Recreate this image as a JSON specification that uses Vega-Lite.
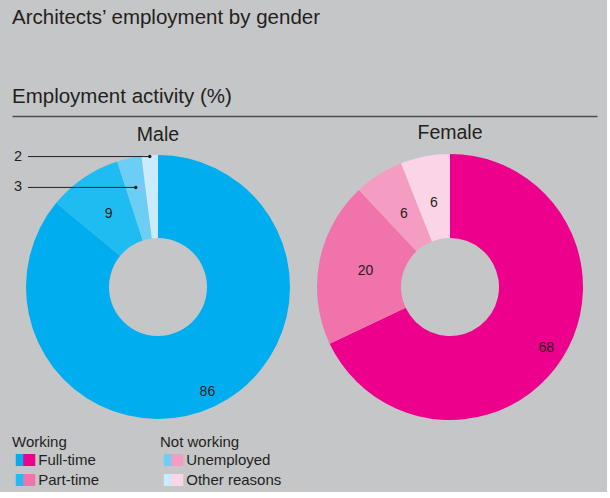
{
  "$schema": "https://vega.github.io/schema/vega-lite/v6.json",
  "description": "Architects' employment activity by gender, in percent.",
  "background": "#c5c6c8",
  "padding": {"left": 12, "top": 8, "right": 10, "bottom": 4},
  "title": {
    "text": "Architects’ employment by gender",
    "anchor": "start",
    "fontSize": 20.5,
    "offset": 58
  },
  "datasets": {
    "employment": [
      {"gender": "Male", "category": "Full-time", "status": "Working", "value": 86},
      {"gender": "Male", "category": "Part-time", "status": "Working", "value": 9},
      {"gender": "Male", "category": "Unemployed", "status": "Not working", "value": 3},
      {"gender": "Male", "category": "Other reasons", "status": "Not working", "value": 2},
      {"gender": "Female", "category": "Full-time", "status": "Working", "value": 68},
      {"gender": "Female", "category": "Part-time", "status": "Working", "value": 20},
      {"gender": "Female", "category": "Unemployed", "status": "Not working", "value": 6},
      {"gender": "Female", "category": "Other reasons", "status": "Not working", "value": 6}
    ]
  },
  "data": {"name": "employment"},
  "spacing": 6,
  "vconcat": [
    {
      "width": 585,
      "height": 1,
      "title": {"text": "Employment activity (%)", "anchor": "start", "fontSize": 20.5, "offset": 8},
      "mark": {"type": "rule", "opacity": 0},
      "encoding": {
        "x": {
          "field": "value",
          "type": "quantitative",
          "axis": {"domain": true, "domainColor": "#4d4d4f", "domainWidth": 1.5, "ticks": false, "labels": false, "grid": false, "title": null}
        }
      }
    },
    {
      "spacing": 15,
      "vconcat": [
        {
          "spacing": 27,
          "hconcat": [
            {
              "width": 278,
              "height": 264,
              "title": {"text": "Male", "fontSize": 19.5, "offset": 3, "dx": 7},
              "transform": [
                {"filter": "datum.gender === 'Male'"},
                {"calculate": "datum.gender + ' ' + datum.category", "as": "key"},
                {"calculate": "indexof(['Full-time','Part-time','Unemployed','Other reasons'], datum.category)", "as": "ord"},
                {"stack": "value", "groupby": ["gender"], "sort": [{"field": "ord", "order": "ascending"}], "as": ["v0", "v1"]},
                {"calculate": "(datum.v0 + datum.v1) / 2", "as": "mid"},
                {"calculate": "0", "as": "cx"}
              ],
              "layer": [
                {
                  "mark": {"type": "arc", "outerRadius": 132, "innerRadius": 49},
                  "encoding": {
                    "x": {"field": "cx", "type": "quantitative", "scale": {"domain": [-1.106, 1], "nice": false, "zero": false}, "axis": null},
                    "theta": {"field": "v0", "type": "quantitative", "scale": {"domain": [0, 100]}},
                    "theta2": {"field": "v1"},
                    "color": {
                      "field": "key",
                      "type": "nominal",
                      "scale": {
                        "domain": ["Male Full-time", "Male Part-time", "Male Unemployed", "Male Other reasons", "Female Full-time", "Female Part-time", "Female Unemployed", "Female Other reasons"],
                        "range": ["#00aeef", "#1ebcf1", "#6dcef5", "#c9ebfb", "#ec008c", "#f173ab", "#f59cc3", "#fbd5e7"]
                      },
                      "legend": null
                    }
                  }
                },
                {
                  "transform": [{"filter": "datum.category === 'Full-time'"}],
                  "mark": {"type": "text", "radius": 116, "fontSize": 14},
                  "encoding": {
                    "x": {"field": "cx", "type": "quantitative"},
                    "theta": {"field": "mid", "type": "quantitative", "scale": {"domain": [0, 100]}},
                    "text": {"field": "value", "type": "quantitative"}
                  }
                },
                {
                  "transform": [{"filter": "datum.category === 'Part-time'"}],
                  "mark": {"type": "text", "radius": 88, "fontSize": 14},
                  "encoding": {
                    "x": {"field": "cx", "type": "quantitative"},
                    "theta": {"field": "mid", "type": "quantitative", "scale": {"domain": [0, 100]}},
                    "text": {"field": "value", "type": "quantitative"}
                  }
                },
                {
                  "transform": [
                    {"filter": "datum.category === 'Unemployed' || datum.category === 'Other reasons'"},
                    {"calculate": "datum.category === 'Other reasons' ? 0.99 : 0.773", "as": "r"},
                    {"calculate": "datum.r * sin(2 * PI * datum.mid / 100)", "as": "px"},
                    {"calculate": "datum.r * cos(2 * PI * datum.mid / 100)", "as": "py"},
                    {"calculate": "-0.985", "as": "lead"},
                    {"calculate": "-1.03", "as": "lx"}
                  ],
                  "layer": [
                    {
                      "mark": {"type": "rule", "color": "#231f20", "strokeWidth": 1},
                      "encoding": {
                        "x": {"field": "lead", "type": "quantitative"},
                        "x2": {"field": "px"},
                        "y": {"field": "py", "type": "quantitative", "scale": {"domain": [-1, 1], "nice": false, "zero": false}, "axis": null}
                      }
                    },
                    {
                      "mark": {"type": "circle", "size": 12, "color": "#231f20", "opacity": 1},
                      "encoding": {
                        "x": {"field": "px", "type": "quantitative"},
                        "y": {"field": "py", "type": "quantitative"}
                      }
                    },
                    {
                      "mark": {"type": "text", "align": "right", "baseline": "middle", "fontSize": 14.5},
                      "encoding": {
                        "x": {"field": "lx", "type": "quantitative"},
                        "y": {"field": "py", "type": "quantitative"},
                        "text": {"field": "value", "type": "quantitative"}
                      }
                    }
                  ]
                }
              ]
            },
            {
              "width": 264,
              "height": 264,
              "title": {"text": "Female", "fontSize": 19.5, "offset": 11},
              "transform": [
                {"filter": "datum.gender === 'Female'"},
                {"calculate": "datum.gender + ' ' + datum.category", "as": "key"},
                {"calculate": "indexof(['Full-time','Part-time','Unemployed','Other reasons'], datum.category)", "as": "ord"},
                {"stack": "value", "groupby": ["gender"], "sort": [{"field": "ord", "order": "ascending"}], "as": ["v0", "v1"]},
                {"calculate": "(datum.v0 + datum.v1) / 2", "as": "mid"}
              ],
              "layer": [
                {
                  "mark": {"type": "arc", "outerRadius": 133, "innerRadius": 49},
                  "encoding": {
                    "theta": {"field": "v0", "type": "quantitative", "scale": {"domain": [0, 100]}},
                    "theta2": {"field": "v1"},
                    "color": {
                      "field": "key",
                      "type": "nominal",
                      "scale": {
                        "domain": ["Male Full-time", "Male Part-time", "Male Unemployed", "Male Other reasons", "Female Full-time", "Female Part-time", "Female Unemployed", "Female Other reasons"],
                        "range": ["#00aeef", "#1ebcf1", "#6dcef5", "#c9ebfb", "#ec008c", "#f173ab", "#f59cc3", "#fbd5e7"]
                      },
                      "legend": null
                    }
                  }
                },
                {
                  "transform": [{"filter": "datum.category === 'Full-time'"}],
                  "mark": {"type": "text", "radius": 114, "fontSize": 14},
                  "encoding": {
                    "theta": {"field": "mid", "type": "quantitative", "scale": {"domain": [0, 100]}},
                    "text": {"field": "value", "type": "quantitative"}
                  }
                },
                {
                  "transform": [{"filter": "datum.category !== 'Full-time'"}],
                  "mark": {"type": "text", "radius": 86, "fontSize": 14},
                  "encoding": {
                    "theta": {"field": "mid", "type": "quantitative", "scale": {"domain": [0, 100]}},
                    "text": {"field": "value", "type": "quantitative"}
                  }
                }
              ]
            }
          ]
        },
        {
          "spacing": 8,
          "hconcat": [
            {
              "width": 140,
              "height": 20,
              "title": {"text": "Working", "anchor": "start", "fontSize": 15, "offset": 3},
              "transform": [
                {"filter": "datum.status === 'Working'"},
                {"calculate": "datum.gender + ' ' + datum.category", "as": "key"}
              ],
              "encoding": {
                "x": {"field": "gender", "type": "nominal", "scale": {"type": "point", "domain": ["Male", "Female"], "range": [6, 21]}, "axis": null},
                "y": {"field": "category", "type": "nominal", "scale": {"type": "point", "domain": ["Full-time", "Part-time"], "padding": 0}, "axis": null}
              },
              "layer": [
                {
                  "mark": {"type": "square", "size": 144, "opacity": 1},
                  "encoding": {
                    "color": {
                      "field": "key",
                      "type": "nominal",
                      "scale": {
                        "domain": ["Male Full-time", "Male Part-time", "Male Unemployed", "Male Other reasons", "Female Full-time", "Female Part-time", "Female Unemployed", "Female Other reasons"],
                        "range": ["#00aeef", "#1ebcf1", "#6dcef5", "#c9ebfb", "#ec008c", "#f173ab", "#f59cc3", "#fbd5e7"]
                      },
                      "legend": null
                    }
                  }
                },
                {
                  "transform": [{"filter": "datum.gender === 'Female'"}],
                  "mark": {"type": "text", "align": "left", "baseline": "middle", "dx": 9, "fontSize": 15},
                  "encoding": {"text": {"field": "category", "type": "nominal"}}
                }
              ]
            },
            {
              "width": 140,
              "height": 20,
              "title": {"text": "Not working", "anchor": "start", "fontSize": 15, "offset": 3},
              "transform": [
                {"filter": "datum.status === 'Not working'"},
                {"calculate": "datum.gender + ' ' + datum.category", "as": "key"}
              ],
              "encoding": {
                "x": {"field": "gender", "type": "nominal", "scale": {"type": "point", "domain": ["Male", "Female"], "range": [6, 21]}, "axis": null},
                "y": {"field": "category", "type": "nominal", "scale": {"type": "point", "domain": ["Unemployed", "Other reasons"], "padding": 0}, "axis": null}
              },
              "layer": [
                {
                  "mark": {"type": "square", "size": 144, "opacity": 1},
                  "encoding": {
                    "color": {
                      "field": "key",
                      "type": "nominal",
                      "scale": {
                        "domain": ["Male Full-time", "Male Part-time", "Male Unemployed", "Male Other reasons", "Female Full-time", "Female Part-time", "Female Unemployed", "Female Other reasons"],
                        "range": ["#00aeef", "#1ebcf1", "#6dcef5", "#c9ebfb", "#ec008c", "#f173ab", "#f59cc3", "#fbd5e7"]
                      },
                      "legend": null
                    }
                  }
                },
                {
                  "transform": [{"filter": "datum.gender === 'Female'"}],
                  "mark": {"type": "text", "align": "left", "baseline": "middle", "dx": 9, "fontSize": 15},
                  "encoding": {"text": {"field": "category", "type": "nominal"}}
                }
              ]
            }
          ]
        }
      ]
    }
  ],
  "config": {
    "font": "Liberation Sans",
    "view": {"stroke": null},
    "title": {"fontWeight": "normal", "color": "#231f20", "font": "Liberation Sans"},
    "text": {"color": "#231f20", "font": "Liberation Sans"},
    "arc": {"stroke": null}
  }
}
